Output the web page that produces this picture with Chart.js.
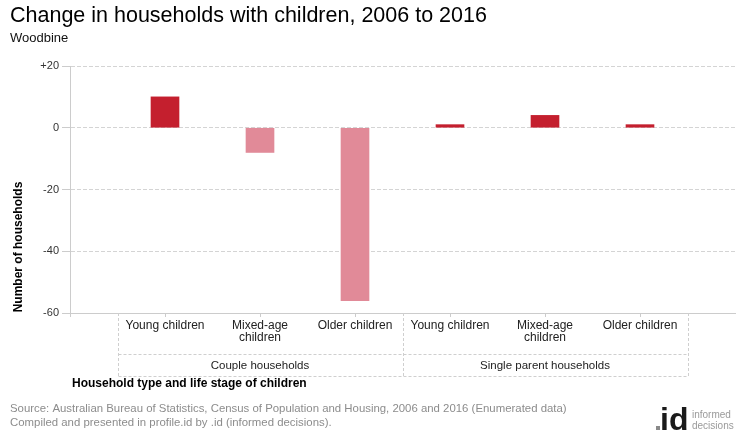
<!DOCTYPE html>
<html>
<head>
<meta charset="utf-8">
<script src="https://cdn.jsdelivr.net/npm/chart.js@4.4.0/dist/chart.umd.min.js"></script>
<style>
html,body{margin:0;padding:0;background:#fff;}
#c{display:block;}
</style>
</head>
<body>
<canvas id="c" width="740" height="440"></canvas>
<script>
// ---- data ----
const categories = ['Young children', ['Mixed-age', 'children'], 'Older children', 'Young children', ['Mixed-age', 'children'], 'Older children'];
const groups = ['Couple households', 'Single parent households'];
const groupSizes = [3, 3];
const changeValues = [10, -8, -56, 1, 4, 1];
const yTicks = [20, 0, -20, -40, -60];

const titleText = 'Change in households with children, 2006 to 2016';
const subtitleText = 'Woodbine';
const yTitle = 'Number of households';
const xTitle = 'Household type and life stage of children';
const sourceLines = [
  'Source: Australian Bureau of Statistics, Census of Population and Housing, 2006 and 2016 (Enumerated data)',
  'Compiled and presented in profile.id by .id (informed decisions).'
];

const POS = '#C41F2E', NEG = '#E18A98';
const FONT = "Arial, 'Liberation Sans', sans-serif";

const labels = ['', ...categories.map((c, i) => 'c' + i), ''];
const data = [null, ...changeValues, null];
const colors = data.map(v => (v !== null && v < 0) ? NEG : POS);

const decor = {
  id: 'decor',
  afterDraw(chart) {
    const ctx = chart.ctx;
    const x = chart.scales.x;
    const area = chart.chartArea;
    ctx.save();
    // title
    ctx.textBaseline = 'alphabetic';
    ctx.textAlign = 'left';
    ctx.fillStyle = '#000';
    ctx.font = '21.5px ' + FONT;
    ctx.fillText(titleText, 10, 22);
    ctx.font = '13px ' + FONT;
    ctx.fillStyle = '#111';
    ctx.fillText(subtitleText, 10, 42);

    // y title
    ctx.save();
    ctx.translate(22, 247);
    ctx.rotate(-Math.PI / 2);
    ctx.textAlign = 'center';
    ctx.font = 'bold 12px ' + FONT;
    ctx.fillStyle = '#000';
    ctx.fillText(yTitle, 0, 0);
    ctx.restore();

    // category tick marks
    ctx.strokeStyle = '#cccccc';
    ctx.lineWidth = 1;
    ctx.beginPath();
    for (let i = 0; i < categories.length; i++) {
      const px = Math.round(x.getPixelForValue(i + 1)) + 0.5;
      ctx.moveTo(px, area.bottom); ctx.lineTo(px, area.bottom + 4);
    }
    ctx.moveTo(area.left + 0.5, area.bottom); ctx.lineTo(area.left + 0.5, area.bottom + 4);
    ctx.stroke();

    // category box
    const step = x.getPixelForValue(2) - x.getPixelForValue(1);
    const boxL = Math.round(x.getPixelForValue(1) - step / 2) + 0.5;
    const boxR = Math.round(x.getPixelForValue(categories.length) + step / 2) + 0.5;
    const rowTop = area.bottom;
    const rowMid = 354.5, rowBot = 376.5;
    ctx.setLineDash([3, 2]);
    ctx.strokeStyle = '#cfcfcf';
    ctx.beginPath();
    ctx.moveTo(boxL, rowTop); ctx.lineTo(boxL, rowBot);
    ctx.moveTo(boxR, rowTop); ctx.lineTo(boxR, rowBot);
    ctx.moveTo(boxL, rowMid); ctx.lineTo(boxR, rowMid);
    ctx.moveTo(boxL, rowBot); ctx.lineTo(boxR, rowBot);
    let acc = 0;
    for (let g = 0; g < groupSizes.length - 1; g++) {
      acc += groupSizes[g];
      const sx = Math.round(x.getPixelForValue(acc) + step / 2) + 0.5;
      ctx.moveTo(sx, rowTop); ctx.lineTo(sx, rowBot);
    }
    ctx.stroke();
    ctx.setLineDash([]);

    // category labels
    ctx.font = '12px ' + FONT;
    ctx.fillStyle = '#222';
    ctx.textAlign = 'center';
    ctx.textBaseline = 'middle';
    categories.forEach((c, i) => {
      const px = x.getPixelForValue(i + 1);
      const lines = Array.isArray(c) ? c : [c];
      lines.forEach((ln, k) => ctx.fillText(ln, px, 326 + k * 12));
    });
    // group labels
    ctx.font = '11.5px ' + FONT;
    let start = 0;
    groups.forEach((g, gi) => {
      const a = x.getPixelForValue(start + 1) - step / 2;
      const b = x.getPixelForValue(start + groupSizes[gi]) + step / 2;
      ctx.fillText(g, (a + b) / 2, 366);
      start += groupSizes[gi];
    });

    // x title
    ctx.textAlign = 'left';
    ctx.font = 'bold 12px ' + FONT;
    ctx.fillStyle = '#000';
    ctx.fillText(xTitle, 72, 384);

    // source
    ctx.font = '11.4px ' + FONT;
    ctx.fillStyle = '#8c8c8c';
    ctx.fillText(sourceLines[0], 10, 409);
    ctx.fillText(sourceLines[1], 10, 423);

    // logo
    ctx.textBaseline = 'alphabetic';
    ctx.fillStyle = '#8a8a8a';
    ctx.fillRect(656, 426, 4, 4);
    ctx.fillStyle = '#1a1a1a';
    ctx.font = 'bold 32px ' + FONT;
    ctx.fillText('id', 660, 430);
    ctx.fillStyle = '#9a9a9a';
    ctx.font = '10px ' + FONT;
    ctx.fillText('informed', 692, 418);
    ctx.fillText('decisions', 692, 429);
    ctx.restore();
  }
};

new Chart(document.getElementById('c'), {
  type: 'bar',
  data: {
    labels: labels,
    datasets: [{
      data: data,
      backgroundColor: colors,
      borderWidth: 0,
      barThickness: 28
    }]
  },
  options: {
    responsive: false,
    devicePixelRatio: 1,
    animation: false,
    layout: { padding: { top: 66, right: 5, left: 0, bottom: 0 } },
    plugins: { legend: { display: false }, tooltip: { enabled: false }, title: { display: false } },
    scales: {
      x: {
        offset: false,
        grid: { display: false, drawTicks: false },
        border: { display: true, color: '#cccccc' },
        ticks: { display: false },
        afterFit: s => { s.height = 127; }
      },
      y: {
        min: -60, max: 20,
        afterBuildTicks: s => { s.ticks = yTicks.map(v => ({ value: v })); },
        grid: { color: '#d4d4d4', tickLength: 8, tickColor: '#cccccc' },
        border: { display: true, color: '#cccccc', dash: [4, 2] },
        ticks: {
          padding: 3,
          color: '#333',
          font: { family: FONT, size: 11 },
          callback: v => (v > 0 ? '+' + v : '' + v)
        },
        afterFit: s => { s.width = 70; }
      }
    }
  },
  plugins: [decor]
});
</script>
</body>
</html>
